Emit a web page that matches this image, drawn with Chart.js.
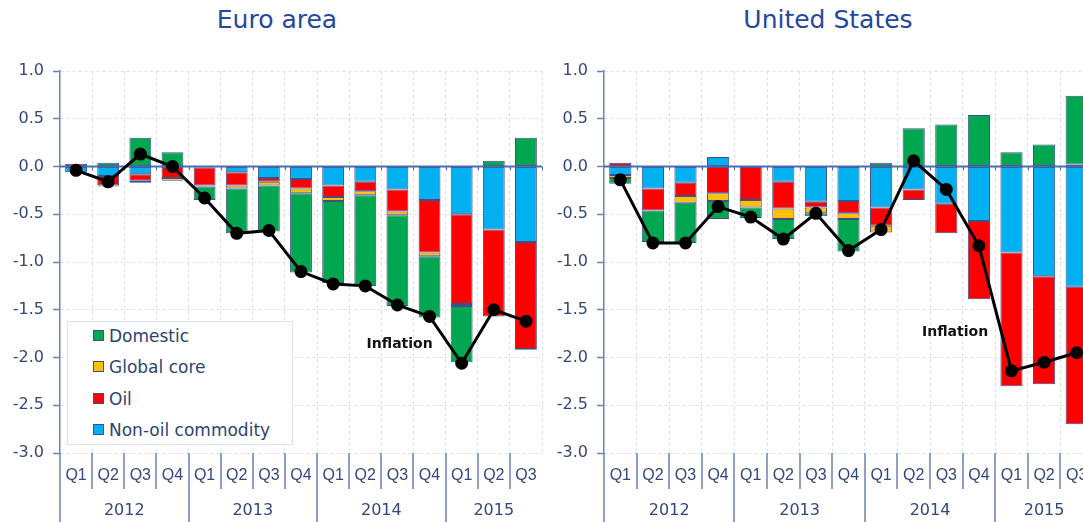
<!DOCTYPE html>
<html>
<head>
<meta charset="utf-8">
<script src="https://cdn.jsdelivr.net/npm/chart.js@4.4.1/dist/chart.umd.min.js"></script>
<style>
    html, body {
        margin: 0;
        padding: 0;
        width: 1083px;
        height: 522px;
        overflow: hidden;
        background: #ffffff;
        font-family: "DejaVu Sans", sans-serif;
    }
    .panel {
        position: absolute;
        top: 0;
        height: 522px;
    }
    #panelEuro { left: 0; width: 550px; }
    #panelUs { left: 545px; width: 560px; }
    .titulo {
        position: absolute;
        top: 5px;
        font-size: 25px;
        color: #2447a0;
        transform: translateX(-50%);
        white-space: nowrap;
    }
    #leyenda {
        position: absolute;
        left: 67px;
        top: 321px;
        width: 224px;
        height: 122px;
        background: #ffffff;
        border: 1px solid #dde3ec;
    }
    .item {
        position: absolute;
        left: 25px;
        height: 20px;
        line-height: 20px;
        font-size: 17px;
        color: #2d4373;
        white-space: nowrap;
    }
    .cuadro {
        display: inline-block;
        width: 9px;
        height: 9px;
        border: 1px solid #3e4f8a;
        margin-right: 5px;
        vertical-align: 1px;
    }
</style>
</head>
<body>
<div class="titulo" style="left:277px">Euro area</div>
<div class="titulo" style="left:828px">United States</div>
<div class="panel" id="panelEuro"><canvas id="graficaEuro"></canvas></div>
<div class="panel" id="panelUs"><canvas id="graficaUs"></canvas></div>
<div id="leyenda"></div>

<script>
/* ==================
    DATOS
================== */

const trimestres = ["Q1", "Q2", "Q3", "Q4", "Q1", "Q2", "Q3", "Q4", "Q1", "Q2", "Q3", "Q4", "Q1", "Q2", "Q3"];
const anios = ["2012", "2013", "2014", "2015"];
const ticksY = [1.0, 0.5, 0.0, -0.5, -1.0, -1.5, -2.0, -2.5, -3.0];

const nombresSeries = ["Domestic", "Global core", "Oil", "Non-oil commodity"];
const coloresSeries = ["#00a650", "#ffc000", "#ff0000", "#00b0f0"];

// Zona euro
const euroDomestic = [0.00, 0.04, 0.30, 0.15, -0.14, -0.47, -0.48, -0.83, -0.86, -0.95, -0.95, -0.64, -0.59, 0.06, 0.30];
const euroGlobalCore = [0.00, -0.01, -0.02, -0.03, -0.01, -0.03, -0.04, -0.05, -0.04, -0.04, -0.04, -0.04, -0.02, 0.00, -0.01];
const euroOil = [0.03, -0.10, -0.07, -0.12, -0.19, -0.14, -0.04, -0.10, -0.12, -0.10, -0.23, -0.55, -0.94, -0.91, -1.12];
const euroNonOil = [-0.06, -0.10, -0.08, 0.00, -0.01, -0.06, -0.12, -0.13, -0.20, -0.16, -0.24, -0.35, -0.50, -0.66, -0.79];
const euroInflation = [-0.04, -0.16, 0.13, 0.00, -0.33, -0.70, -0.67, -1.10, -1.23, -1.25, -1.45, -1.57, -2.06, -1.50, -1.62];

// Estados Unidos
const usDomestic = [-0.06, -0.33, -0.42, -0.19, -0.11, -0.21, -0.03, -0.34, 0.04, 0.40, 0.44, 0.54, 0.15, 0.23, 0.72];
const usGlobalCore = [-0.03, 0.00, -0.07, -0.08, -0.08, -0.11, -0.06, -0.06, -0.07, 0.00, 0.00, 0.00, 0.00, 0.00, 0.02];
const usOil = [0.04, -0.23, -0.14, -0.28, -0.35, -0.28, -0.06, -0.13, -0.19, -0.11, -0.31, -0.82, -1.40, -1.13, -1.44];
const usNonOil = [-0.09, -0.23, -0.17, 0.10, 0.00, -0.16, -0.37, -0.36, -0.43, -0.24, -0.39, -0.57, -0.90, -1.15, -1.26];
const usInflation = [-0.14, -0.80, -0.80, -0.42, -0.53, -0.76, -0.49, -0.88, -0.66, 0.06, -0.24, -0.83, -2.14, -2.05, -1.95];

/* ==================
    ESTILOS
================== */

const COLOR_EJE = "#6a82b4";
const COLOR_TEXTO = "#33487a";
const COLOR_REJILLA = "#d9dfeb";

/* ==================
    PLUGIN DE EJES
================== */

const ejesExtra = {
    id: "ejesExtra",
    beforeDatasetDraw(chart, args) {
        // linea de cero, justo antes de la linea de inflacion
        if (args.index !== 4) {
            return;
        }
        const { ctx, chartArea } = chart;
        const y0 = chart.scales.y.getPixelForValue(0);
        const paso = (chartArea.right - chartArea.left) / trimestres.length;

        ctx.save();
        ctx.strokeStyle = "#4a6cb0";
        ctx.lineWidth = 2;
        ctx.beginPath();
        ctx.moveTo(chartArea.left, y0);
        ctx.lineTo(chartArea.right, y0);
        ctx.stroke();

        ctx.lineWidth = 1;
        for (let i = 1; i <= trimestres.length; i++) {
            const x = Math.round(chartArea.left + i * paso) + 0.5;
            ctx.beginPath();
            ctx.moveTo(x, y0);
            ctx.lineTo(x, y0 + 4);
            ctx.stroke();
        }
        ctx.restore();
    },
    afterDraw(chart, args, opciones) {
        const { ctx, chartArea } = chart;
        const escalaX = chart.scales.x;
        const escalaY = chart.scales.y;
        const paso = (chartArea.right - chartArea.left) / trimestres.length;
        const abajo = chartArea.bottom;

        ctx.save();
        ctx.strokeStyle = COLOR_EJE;
        ctx.lineWidth = 1.5;

        // eje y hasta el borde inferior
        ctx.beginPath();
        ctx.moveTo(chartArea.left, abajo);
        ctx.lineTo(chartArea.left, chart.height);
        ctx.stroke();

        // separadores de trimestres y de anios
        for (let i = 1; i < trimestres.length; i++) {
            const x = Math.round(chartArea.left + i * paso);
            const esAnio = i % 4 === 0;
            ctx.beginPath();
            ctx.moveTo(x, abajo);
            ctx.lineTo(x, esAnio ? chart.height : abajo + 36);
            ctx.stroke();
        }

        // etiquetas de anios
        ctx.fillStyle = COLOR_TEXTO;
        ctx.font = "16px 'DejaVu Sans'";
        ctx.textAlign = "center";
        ctx.textBaseline = "middle";
        anios.forEach((anio, k) => {
            const primero = k * 4;
            const ultimo = Math.min(primero + 3, trimestres.length - 1);
            const x = (escalaX.getPixelForValue(primero) + escalaX.getPixelForValue(ultimo)) / 2;
            ctx.fillText(anio, x, abajo + 58);
        });

        // etiqueta de inflacion
        ctx.fillStyle = "#111111";
        ctx.font = "bold 14px 'DejaVu Sans'";
        ctx.fillText(
            "Inflation",
            escalaX.getPixelForValue(opciones.etiquetaX),
            escalaY.getPixelForValue(opciones.etiquetaY)
        );
        ctx.restore();
    },
};

/* ==================
    GRAFICAS
================== */

function crearDatasetsBarras(domestic, globalCore, oil, nonOil) {
    // el orden de apilado deja non-oil junto al cero
    const series = [nonOil, oil, globalCore, domestic];
    const indices = [3, 2, 1, 0];
    return series.map((valores, n) => ({
        type: "bar",
        label: nombresSeries[indices[n]],
        data: valores,
        backgroundColor: coloresSeries[indices[n]],
        borderColor: "#3e4f8a",
        borderWidth: 1,
        borderSkipped: false,
        stack: "componentes",
        order: 1,
        barPercentage: 0.68,
        categoryPercentage: 1.0,
    }));
}

function crearGrafica(canvasId, series, inflacion, anchoEjeY, rellenoDerecho, etiqueta) {
    const canvas = document.getElementById(canvasId);
    if (!canvas || typeof Chart === "undefined") {
        return;
    }

    new Chart(canvas.getContext("2d"), {
        data: {
            labels: trimestres,
            datasets: [
                ...crearDatasetsBarras(...series),
                {
                    type: "line",
                    label: "Inflation",
                    data: inflacion,
                    borderColor: "#000000",
                    borderWidth: 3,
                    pointRadius: 5,
                    pointBackgroundColor: "#000000",
                    pointBorderColor: "#000000",
                    tension: 0,
                    stack: "inflacion",
                    order: 0,
                },
            ],
        },
        options: {
            responsive: true,
            maintainAspectRatio: false,
            animation: false,
            layout: {
                padding: { top: 71, right: rellenoDerecho, bottom: 0, left: 0 },
            },
            plugins: {
                legend: { display: false },
                tooltip: { enabled: false },
                ejesExtra: etiqueta,
            },
            scales: {
                x: {
                    stacked: true,
                    offset: true,
                    border: { display: false, dash: [3, 3] },
                    grid: {
                        offset: true,
                        color: COLOR_REJILLA,
                        drawTicks: false,
                    },
                    ticks: {
                        color: COLOR_TEXTO,
                        font: { family: "'Liberation Sans'", size: 16 },
                        padding: 13,
                        maxRotation: 0,
                        autoSkip: false,
                    },
                    afterFit(escala) {
                        escala.height = 69;
                    },
                },
                y: {
                    stacked: true,
                    min: ticksY[ticksY.length - 1],
                    max: ticksY[0],
                    border: { color: COLOR_EJE, width: 1.5, dash: [3, 3] },
                    grid: {
                        color: COLOR_REJILLA,
                        drawTicks: true,
                        tickLength: 7,
                        tickColor: COLOR_EJE,
                        tickWidth: 1.5,
                        tickBorderDash: [],
                    },
                    afterBuildTicks(escala) {
                        escala.ticks = ticksY.map((valor) => ({ value: valor }));
                    },
                    ticks: {
                        color: COLOR_TEXTO,
                        font: { family: "'DejaVu Sans'", size: 16 },
                        padding: 9,
                        callback: (valor) => Number(valor).toFixed(1),
                    },
                    afterFit(escala) {
                        escala.width = anchoEjeY;
                    },
                },
            },
        },
        plugins: [ejesExtra],
    });
}

function crearLeyenda() {
    const caja = document.getElementById("leyenda");
    nombresSeries.forEach((nombre, i) => {
        const item = document.createElement("div");
        item.className = "item";
        item.style.top = (4 + i * 31.3) + "px";
        const cuadro = document.createElement("span");
        cuadro.className = "cuadro";
        cuadro.style.background = coloresSeries[i];
        item.appendChild(cuadro);
        item.appendChild(document.createTextNode(nombre));
        caja.appendChild(item);
    });
}

function renderizarGraficas() {
    crearGrafica(
        "graficaEuro",
        [euroDomestic, euroGlobalCore, euroOil, euroNonOil],
        euroInflation,
        60,
        1,
        { etiquetaX: 10.07, etiquetaY: -1.86 }
    );
    crearGrafica(
        "graficaUs",
        [usDomestic, usGlobalCore, usOil, usNonOil],
        usInflation,
        59,
        12,
        { etiquetaX: 10.27, etiquetaY: -1.74 }
    );
    crearLeyenda();
}

if (document.readyState === "loading") {
    document.addEventListener("DOMContentLoaded", renderizarGraficas);
} else {
    renderizarGraficas();
}
</script>
</body>
</html>
